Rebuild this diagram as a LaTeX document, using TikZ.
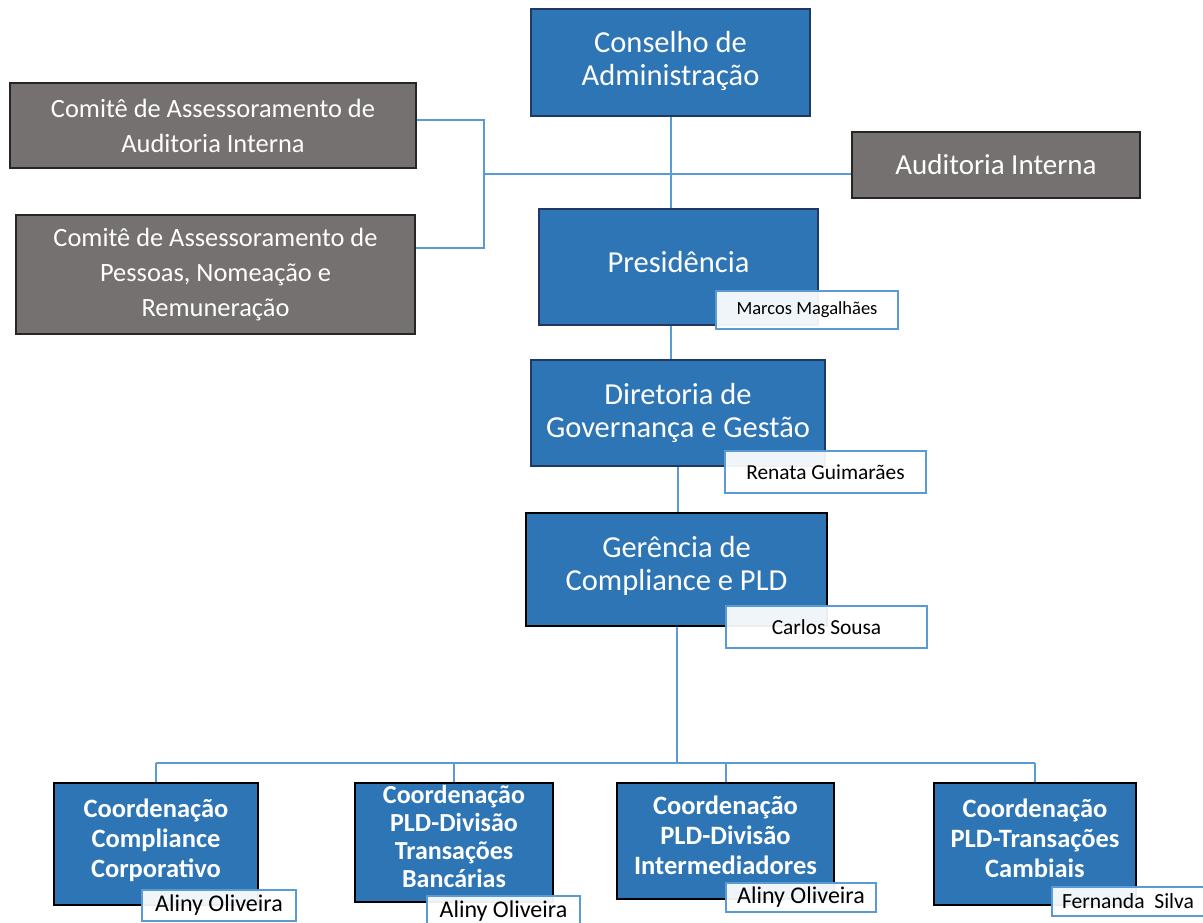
\documentclass[tikz,border=0pt]{standalone}
\usepackage{fontspec}
\setmainfont{Carlito}
\usetikzlibrary{calc}
\definecolor{boxblue}{HTML}{2E75B6}
\definecolor{navy}{HTML}{1F3864}
\definecolor{boxgray}{HTML}{767171}
\definecolor{linkblue}{HTML}{5B9BD5}
\tikzset{
    size/.style 2 args={minimum width=#1, minimum height=#2},
    unit/.style={draw=navy, line width=2pt, fill=boxblue, text=white, align=center,
        inner sep=0pt, font=\fontsize{30.5}{33}\selectfont},
    board/.style={draw=black!85, line width=1.5pt, fill=boxgray, text=white, align=center,
        inner sep=0pt, font=\fontsize{26.4}{35}\selectfont},
    coord/.style={unit, draw=black, font=\bfseries\fontsize{26.5}{30}\selectfont},
    person/.style={draw=linkblue, line width=2pt, fill=white, fill opacity=.93, text opacity=1,
        text=black, inner sep=0pt, font=\fontsize{#1}{#1}\selectfont},
    person/.default=21.4,
    link/.style={draw=linkblue, line width=2pt},
}
\begin{document}
\begin{tikzpicture}[x=1pt, y=-1pt]
    \useasboundingbox (0,0) rectangle (1203,923);

    % top of the structure
    \node[unit, size={279pt}{107pt}] (conselho) at (670.5,62.5) {Conselho de\\Administração\\[-25pt]};
    \node[board, size={406pt}{85pt}] (comiteAud) at (213,125.5) {Comitê de Assessoramento de\\Auditoria Interna};
    \node[board, size={399pt}{119pt}] (comitePes) at (215.5,274.5) {Comitê de Assessoramento de\\Pessoas, Nomeação e\\Remuneração};
    \node[board, size={288pt}{66pt}, font=\fontsize{29}{33}\selectfont] (auditoria) at (996,165) {Auditoria Interna};
    \node[unit, size={279pt}{116pt}] (presid) at (678.5,267) {Presidência\\[-23pt]};
    \node[unit, size={294pt}{106pt}] (diretoria) at (678,413) {Diretoria de\\Governança e Gestão};
    \node[coord, font=\fontsize{30.5}{33}\selectfont, size={301pt}{113pt}] (gerencia) at (676.5,569.5) {Gerência de\\Compliance e PLD\\[-21pt]};

    % coordinations
    \node[coord, size={204pt}{122pt}] (coordCorp) at (156,844) {Coordenação\\Compliance\\Corporativo\\[-18pt]};
    \node[coord, size={198pt}{119pt}, font=\bfseries\fontsize{26}{28}\selectfont] (coordBanc) at (454,842.5) {Coordenação\\PLD-Divisão\\Transações\\Bancárias\\[-16pt]};
    \node[coord, size={217pt}{116pt}] (coordInter) at (725.5,841) {Coordenação\\PLD-Divisão\\Intermediadores\\[-18pt]};
    \node[coord, size={202pt}{122pt}] (coordCamb) at (1035,844) {Coordenação\\PLD-Transações\\Cambiais\\[-18pt]};

    % names
    \node[person=18.5, size={182pt}{38pt}] (nmMarcos) at (807,310) {Marcos Magalhães};
    \node[person, size={201pt}{42pt}] (nmRenata) at (825.5,472) {Renata Guimarães};
    \node[person, size={201pt}{42pt}] (nmCarlos) at (826.5,627) {Carlos Sousa};
    \node[person=24, size={154pt}{31pt}] (nmCorp) at (219,905.5) {Aliny Oliveira};
    \node[person=24, size={153pt}{30pt}] (nmBanc) at (503.5,911) {Aliny Oliveira};
    \node[person=24, size={150pt}{29pt}] (nmInter) at (801,897.5) {Aliny Oliveira};
    \node[person=21.6, size={152pt}{29pt}] (nmCamb) at (1128,901.5) {Fernanda\ \ Silva};

    % connectors
    \coordinate (brk) at (484,174);
    \coordinate (bus) at (679,763);
    \draw[link] (conselho.south) -- (conselho.south |- presid.north);
    \draw[link] ([yshift=5.5pt]comiteAud.east) -| (brk) |- ([yshift=26.5pt]comitePes.east);
    \draw[link] (brk) -- (brk -| auditoria.west);
    \draw[link] (conselho.south |- presid.south) -- (conselho.south |- diretoria.north);
    \draw[link] (diretoria.south) -- (diretoria.south |- gerencia.north);
    \draw[link] (gerencia.south) -- (gerencia.south |- bus);
    \draw[link] (coordCorp.north |- bus) -- (coordCamb.north |- bus);
    \foreach \c in {coordCorp, coordBanc, coordInter, coordCamb}
        \draw[link] (\c.north) -- (\c.north |- bus);
\end{tikzpicture}
\end{document}
